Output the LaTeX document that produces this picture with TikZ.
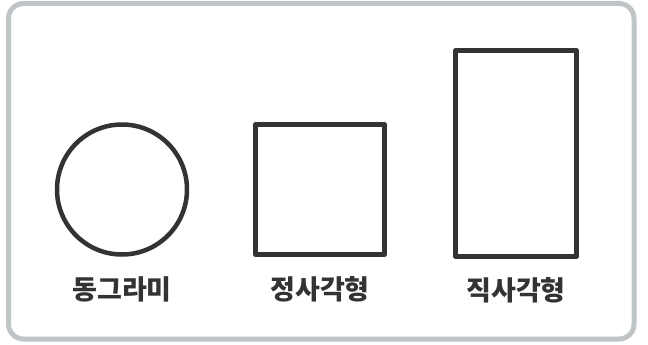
\documentclass[tikz,border=0pt]{standalone}
\usepackage{fontspec}
\newfontfamily\kr{Noto Sans CJK KR Black}
\definecolor{framegray}{HTML}{BFC5C7}
\definecolor{ink}{HTML}{333333}
\begin{document}
\begin{tikzpicture}[x=1pt,y=-1pt,
  shapeline/.style={draw=ink,line width=4.5pt,line join=round,inner sep=0pt,fill=white},
  lbl/.style={text=ink,font=\kr\fontsize{27pt}{30pt}\selectfont,anchor=base,inner sep=0pt}]
\useasboundingbox (0,0) rectangle (648,345);
\draw[framegray,line width=5pt,rounded corners=15pt] (8.5,3.5) rectangle (634,339);
\node[shapeline,circle,minimum size=130pt] (circ) at (122,189.5) {};
\node[shapeline,rectangle,minimum width=129pt,minimum height=130pt] (sq) at (320,189.5) {};
\node[shapeline,rectangle,minimum width=121pt,minimum height=206pt] (rect) at (516,153.5) {};
\node[lbl] (lcirc) at (122,299) {동그라미};
\node[lbl] (lsq) at (320,299) {정사각형};
\node[lbl] (lrect) at (516,300) {직사각형};
\end{tikzpicture}
\end{document}
